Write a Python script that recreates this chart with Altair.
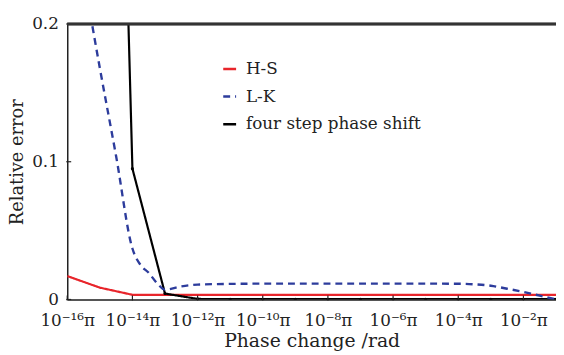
import altair as alt
import pandas as pd

# ---- data (x in units of pi, given as log10 exponent) ----
hs_exp = [-16, -15, -14, -13, -12, -11, -10, -9, -8, -7, -6, -5, -4, -3, -2, -1]
hs_val = [0.017, 0.0086, 0.0034, 0.0034, 0.0034, 0.0034, 0.0034, 0.0034, 0.0034, 0.0034,
          0.0034, 0.0034, 0.0034, 0.0034, 0.0034, 0.0034]

lk_exp = [-16, -15.5, -15, -14.5, -14, -13.75, -13.5, -13.25, -13,
          -12.5, -12, -11, -10, -9, -8, -7, -6, -5, -4, -3.5, -3, -2.5, -2, -1.5, -1]
lk_val = [0.30, 0.235, 0.168, 0.104, 0.037, 0.025, 0.0194, 0.012, 0.0072,
          0.0095, 0.0108, 0.0113, 0.0115, 0.0115, 0.0115, 0.0115, 0.0115, 0.0115, 0.0114, 0.0110,
          0.0100, 0.0078, 0.0055, 0.0028, 0.0]

fs_exp = [-16, -15, -14, -13, -12, -11, -10, -9, -8, -7, -6, -5, -4, -3, -2, -1]
fs_val = [1.0, 0.96, 0.095, 0.0043, 0.0004, 0.0002, 0.0002, 0.0002, 0.0002, 0.0002,
          0.0002, 0.0002, 0.0002, 0.0002, 0.0002, 0.0002]

series_names = ["H-S", "L-K", "four step phase shift"]
series_colors = ["#e8252b", "#2d3c9c", "#000000"]

x_tick_exp = [-16, -14, -12, -10, -8, -6, -4, -2]
x_tick_labels = ["10⁻¹⁶π", "10⁻¹⁴π", "10⁻¹²π", "10⁻¹⁰π", "10⁻⁸π", "10⁻⁶π", "10⁻⁴π", "10⁻²π"]
y_ticks = [0, 0.1, 0.2]
y_tick_labels = ["0", "0.1", "0.2"]

rows = []
for name, ex, vals in [("H-S", hs_exp, hs_val), ("L-K", lk_exp, lk_val),
                       ("four step phase shift", fs_exp, fs_val)]:
    for e, v in zip(ex, vals):
        rows.append({"series": name, "x": 10.0 ** e, "y": v})
df = pd.DataFrame(rows)

xt = pd.DataFrame({"x": [10.0 ** e for e in x_tick_exp]})
yt = pd.DataFrame({"y": y_ticks})

W, H = 495, 279
FONT = "DejaVu Serif"

label_expr = " : ".join(
    f"round(log(datum.value)/LN10) == {e} ? '{lab}'" for e, lab in zip(x_tick_exp, x_tick_labels)
) + " : ''"
ylabel_expr = " : ".join(
    f"abs(datum.value - {v}) < 1e-9 ? '{lab}'" for v, lab in zip(y_ticks, y_tick_labels)
) + " : ''"

xscale = alt.Scale(type="log", domain=[1e-16, 1e-1], nice=False)
yscale = alt.Scale(domain=[0, 0.2], nice=False)
cscale = alt.Scale(domain=series_names, range=series_colors)
dscale = alt.Scale(domain=series_names, range=[[1, 0], [7, 5], [1, 0]])

xaxis = alt.Axis(values=[10.0 ** e for e in x_tick_exp], labelExpr=label_expr,
                 title="Phase change /rad", tickSize=0, labelPadding=13,
                 grid=False, domainColor="#222", domainWidth=1.5,
                 labelFont=FONT, labelFontSize=17, labelColor="#222",
                 titleFont=FONT, titleFontSize=19, titleFontWeight="normal",
                 titleColor="#222", titlePadding=4, labelFlush=False)
yaxis = alt.Axis(values=y_ticks, labelExpr=ylabel_expr, title="Relative error",
                 tickSize=0, labelPadding=9, grid=False, domainColor="#222",
                 domainWidth=1.5, labelFont=FONT, labelFontSize=17,
                 labelColor="#222", titleFont=FONT, titleFontSize=18,
                 titleFontWeight="normal", titleColor="#222",
                 titleX=-59, titleY=H / 2, titleAngle=270, titleAlign="center",
                 titleBaseline="top")
legend = alt.Legend(title=None, orient="none", legendX=156, legendY=37,
                    symbolType="stroke", symbolSize=170, symbolStrokeWidth=2.5,
                    labelFont=FONT, labelFontSize=17, labelColor="#222",
                    rowPadding=10, labelOffset=8, labelLimit=400)

base = alt.Chart(df)
straight = base.transform_filter(alt.datum.series != "L-K").mark_line(
    clip=True, strokeWidth=2.2).encode(
    x=alt.X("x:Q", scale=xscale, axis=xaxis),
    y=alt.Y("y:Q", scale=yscale, axis=yaxis),
    color=alt.Color("series:N", scale=cscale, legend=legend),
    strokeDash=alt.StrokeDash("series:N", scale=dscale, legend=None),
)
smooth = base.transform_filter(alt.datum.series == "L-K").mark_line(
    clip=True, strokeWidth=2.4, interpolate="monotone").encode(
    x=alt.X("x:Q", scale=xscale),
    y=alt.Y("y:Q", scale=yscale),
    color=alt.Color("series:N", scale=cscale, legend=legend),
    strokeDash=alt.StrokeDash("series:N", scale=dscale, legend=None),
)

pts = base.transform_filter(alt.datum.series == "four step phase shift").mark_point(
    clip=True, filled=True, size=10, color="#000", opacity=1).encode(
    x=alt.X("x:Q", scale=xscale), y=alt.Y("y:Q", scale=yscale))

xticks = alt.Chart(xt).mark_rule(color="#222", strokeWidth=1.2).encode(
    x=alt.X("x:Q", scale=xscale), y=alt.value(H - 4), y2=alt.value(H + 1))
yticks = alt.Chart(yt).mark_rule(color="#222", strokeWidth=1.2).encode(
    y=alt.Y("y:Q", scale=yscale), x=alt.value(-1), x2=alt.value(4))
top = alt.Chart(yt).mark_rule(color="#333", strokeWidth=2.5).encode(
    x=alt.value(0), x2=alt.value(W), y=alt.value(0))

chart = alt.layer(straight, smooth, pts, xticks, yticks, top).properties(
    width=W, height=H,
    autosize=alt.AutoSizeParams(type="none"),
    padding={"left": 60, "top": 14, "right": 0, "bottom": 52},
).configure_view(stroke=None).configure(background="white")

chart.save("out.html", embed_options={"renderer": "svg", "actions": False})
